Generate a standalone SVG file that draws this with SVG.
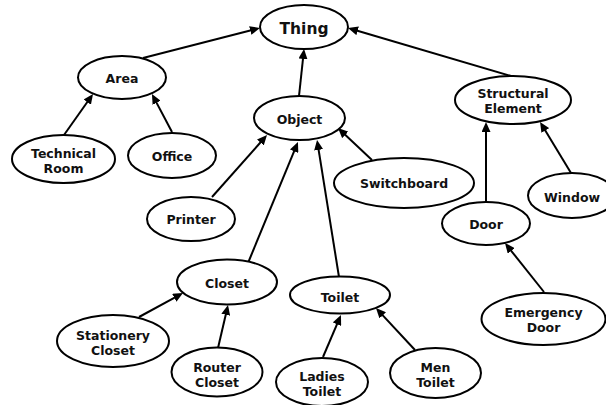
<svg xmlns="http://www.w3.org/2000/svg" width="606" height="405" viewBox="0 0 606 405">
<style>
.n ellipse{fill:#fff;stroke:#000;stroke-width:2}
.n text{font-family:"DejaVu Sans",Verdana,sans-serif;font-weight:bold;font-size:12.5px;text-anchor:middle;fill:#111}
#edges line{stroke:#000;stroke-width:2;marker-end:url(#ah)}
</style>
<defs>
<marker id="ah" markerUnits="userSpaceOnUse" markerWidth="10" markerHeight="9" refX="2" refY="4.5" orient="auto" viewBox="0 0 10 9">
<path d="M0,0 L10,4.5 L0,9 z" fill="#000"/>
</marker>
</defs>
<rect width="606" height="405" fill="#fff"/>
<g id="edges">
<line x1="143" y1="58" x2="252.2" y2="30"/>
<line x1="299" y1="96" x2="303.2" y2="56.9"/>
<line x1="511" y1="76" x2="355.7" y2="30.3"/>
<line x1="64" y1="135" x2="88.4" y2="100.5"/>
<line x1="172" y1="132" x2="155.7" y2="101.1"/>
<line x1="212" y1="197" x2="261.7" y2="141"/>
<line x1="248" y1="263" x2="294.9" y2="149.4"/>
<line x1="339" y1="277" x2="318.3" y2="147.9"/>
<line x1="372" y1="160" x2="343.8" y2="133.5"/>
<line x1="486" y1="202" x2="486" y2="130"/>
<line x1="571" y1="173" x2="544.2" y2="128.8"/>
<line x1="544" y1="292" x2="510" y2="249.3"/>
<line x1="139" y1="317" x2="176" y2="296.8"/>
<line x1="218" y1="348" x2="226.2" y2="312.8"/>
<line x1="323" y1="357" x2="337.8" y2="322.4"/>
<line x1="415" y1="350" x2="381.4" y2="313.9"/>
</g>
<g id="thing" class="n"><ellipse cx="304" cy="27" rx="44" ry="22"/><text x="304" y="34" style="font-size:15.5px">Thing</text></g>
<g id="area" class="n"><ellipse cx="122" cy="77.5" rx="44" ry="21.5"/><text x="122" y="83">Area</text></g>
<g id="technical-room" class="n"><ellipse cx="63.5" cy="159" rx="51.5" ry="24"/><text x="63.5" y="158">Technical</text><text x="63.5" y="173">Room</text></g>
<g id="office" class="n"><ellipse cx="172" cy="155.5" rx="44" ry="22.5"/><text x="172" y="160.5">Office</text></g>
<g id="object" class="n"><ellipse cx="299.5" cy="118" rx="45.5" ry="22"/><text x="299.5" y="123.5">Object</text></g>
<g id="structural-element" class="n"><ellipse cx="513" cy="100" rx="58" ry="24"/><text x="513" y="98">Structural</text><text x="513" y="113">Element</text></g>
<g id="switchboard" class="n"><ellipse cx="404" cy="183" rx="70" ry="25"/><text x="404" y="187.5">Switchboard</text></g>
<g id="window" class="n"><ellipse cx="572" cy="195.5" rx="44" ry="22.5"/><text x="572" y="201.5">Window</text></g>
<g id="printer" class="n"><ellipse cx="191" cy="219" rx="44" ry="22"/><text x="191" y="224">Printer</text></g>
<g id="closet" class="n"><ellipse cx="227" cy="282" rx="50" ry="22.5"/><text x="227" y="288">Closet</text></g>
<g id="toilet" class="n"><ellipse cx="340" cy="295" rx="50" ry="18.5"/><text x="340" y="301.5">Toilet</text></g>
<g id="door" class="n"><ellipse cx="486" cy="223.5" rx="44" ry="21.5"/><text x="486" y="229">Door</text></g>
<g id="emergency-door" class="n"><ellipse cx="543.5" cy="319" rx="62" ry="26"/><text x="543.5" y="317">Emergency</text><text x="543.5" y="331.5">Door</text></g>
<g id="stationery-closet" class="n"><ellipse cx="113" cy="341" rx="56" ry="26"/><text x="113" y="340">Stationery</text><text x="113" y="355">Closet</text></g>
<g id="router-closet" class="n"><ellipse cx="217" cy="372" rx="45.5" ry="24.5"/><text x="217" y="371.5">Router</text><text x="217" y="386.5">Closet</text></g>
<g id="ladies-toilet" class="n"><ellipse cx="322" cy="382" rx="46" ry="24"/><text x="322" y="381">Ladies</text><text x="322" y="396">Toilet</text></g>
<g id="men-toilet" class="n"><ellipse cx="435.5" cy="373" rx="45.5" ry="25"/><text x="435.5" y="371.5">Men</text><text x="435.5" y="386.5">Toilet</text></g>
</svg>
